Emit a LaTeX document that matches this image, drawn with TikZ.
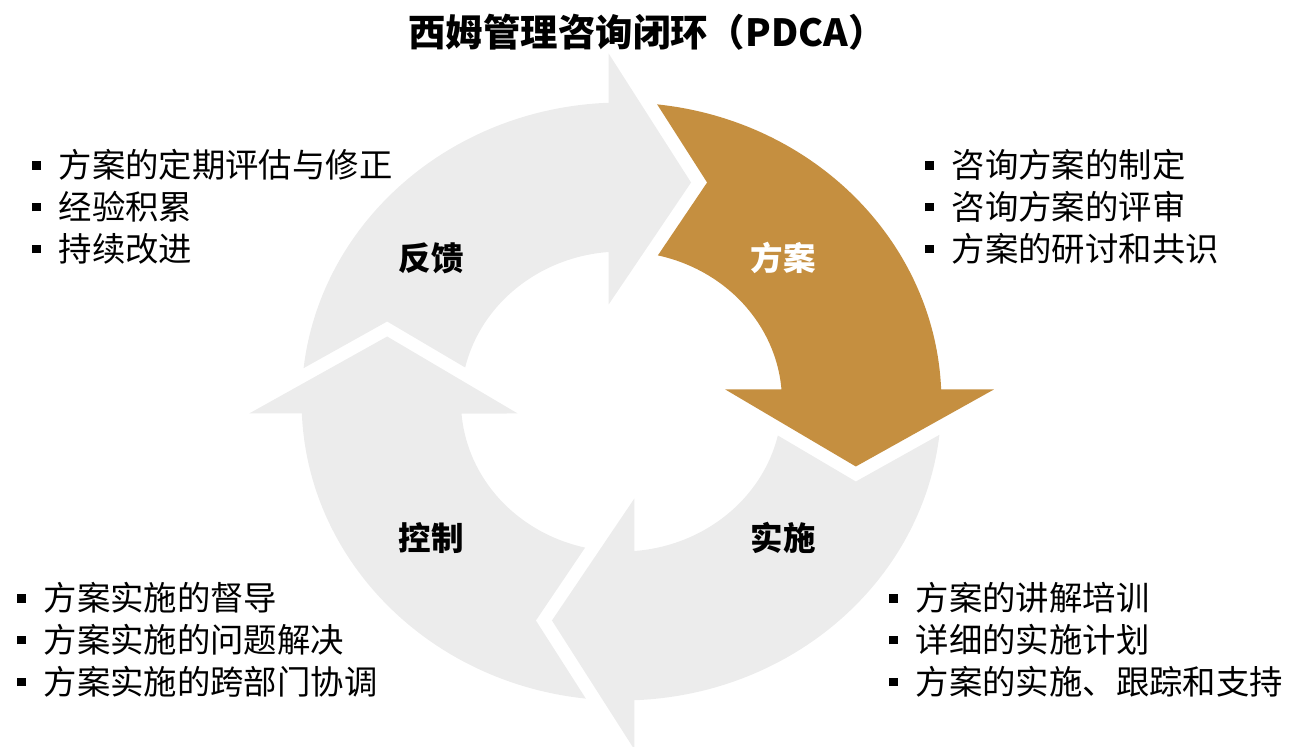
\documentclass[tikz,border=0pt]{standalone}
\usepackage{fontspec}
\setmainfont{Noto Sans CJK SC}
\usepackage{tikz}

\definecolor{planorange}{RGB}{197,143,64}
\definecolor{ringgrey}{RGB}{236,236,236}
\newcommand{\bul}{\rule[0.25em]{4.8pt}{4.8pt}\hspace{10.2pt}}

\begin{document}
\begin{tikzpicture}[x=0.02cm, y=0.02cm,
        stage/.style = {font=\fontsize{18.5}{22}\selectfont\bfseries},
        items/.style = {anchor=west, align=left, inner sep=0pt,
            font=\fontsize{19}{23.8}\selectfont}]

    \useasboundingbox (0,0) rectangle (1302,747);

    % Title
    \node[font=\fontsize{21.3}{26}\selectfont\bfseries] (title) at (647,715) {西姆管理咨询闭环（PDCA）};

    % Ring of arrows
    \begin{scope}[shift={(621.5,345.5)}, xscale=1.07]
        \foreach \rot/\col in {90/ringgrey, 180/ringgrey, 270/ringgrey, 0/planorange}
            \fill[\col, rotate=\rot] (83.6:299) arc[start angle=83.6, end angle=2.3, radius=299]
                -- (348,12) -- (219,-65) -- (97,12) -- (4.6:150)
                arc[start angle=4.6, end angle=76.9, radius=150] -- (80,219) -- cycle;
    \end{scope}

    % Stage labels
    \node[stage] (fb) at (431,489) {反馈};
    \node[stage, white] (plan) at (783,489) {方案};
    \node[stage] (ctrl) at (431,209) {控制};
    \node[stage] (impl) at (783,209) {实施};

    % Item lists
    \node[items] (fblist) at (32,540) {\bul 方案的定期评估与修正\\ \bul 经验积累\\ \bul 持续改进};
    \node[items] (planlist) at (925,540) {\bul 咨询方案的制定\\ \bul 咨询方案的评审\\ \bul 方案的研讨和共识};
    \node[items] (ctrllist) at (17,107) {\bul 方案实施的督导\\ \bul 方案实施的问题解决\\ \bul 方案实施的跨部门协调};
    \node[items] (impllist) at (889,107) {\bul 方案的讲解培训\\ \bul 详细的实施计划\\ \bul 方案的实施、跟踪和支持};

\end{tikzpicture}
\end{document}
